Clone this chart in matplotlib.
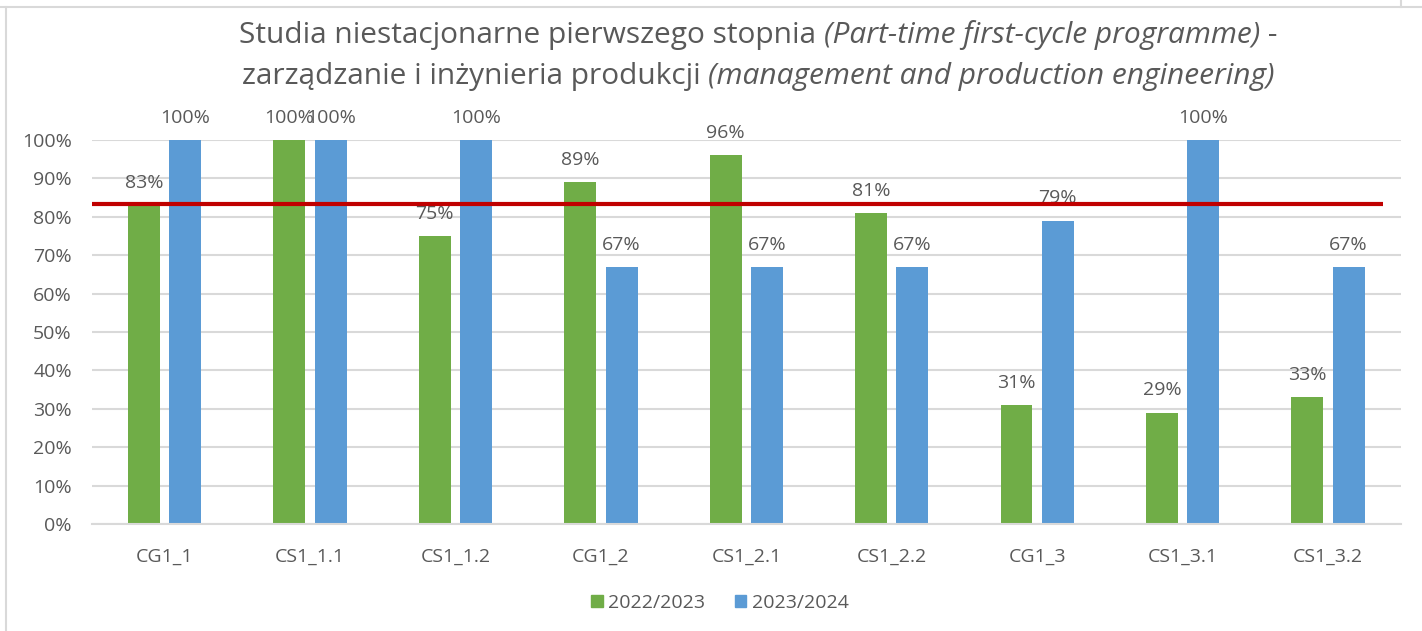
import numpy as np
import matplotlib
matplotlib.use('Agg')
import matplotlib.pyplot as plt
from matplotlib.lines import Line2D
from matplotlib.patches import Patch

categories = ['CG1_1', 'CS1_1.1', 'CS1_1.2', 'CG1_2', 'CS1_2.1',
              'CS1_2.2', 'CG1_3', 'CS1_3.1', 'CS1_3.2']
vals_2223 = [83, 100, 75, 89, 96, 81, 31, 29, 33]
vals_2324 = [100, 100, 100, 67, 67, 67, 79, 100, 67]
series_names = ['2022/2023', '2023/2024']
threshold = 83.3

C_GREEN = '#70ad47'
C_BLUE = '#5b9bd5'
C_RED = '#c00000'
C_TEXT = '#595959'
C_GRID = '#d9d9d9'

plt.rcParams['font.family'] = ['Open Sans', 'DejaVu Sans']

fig = plt.figure(figsize=(14.22, 6.31), dpi=100)
ax = fig.add_axes([0.0647, 0.1696, 0.9203, 0.6085])

x = np.arange(len(categories))
w = 0.22
off = 0.142
b1 = ax.bar(x - off, vals_2223, w, color=C_GREEN, zorder=2)
b2 = ax.bar(x + off, vals_2324, w, color=C_BLUE, zorder=2)

for bars, vals in ((b1, vals_2223), (b2, vals_2324)):
    for r, v in zip(bars, vals):
        ax.annotate(f'{v}%', (r.get_x() + r.get_width() / 2, v),
                    xytext=(0, 9.5), textcoords='offset points',
                    ha='center', va='bottom', fontsize=14, color=C_TEXT)

ax.hlines(threshold, -0.5, 8.38, color=C_RED, linewidth=3, zorder=3)

ax.set_xlim(-0.5, len(categories) - 0.5)
ax.set_ylim(0, 100)
ax.set_yticks(np.arange(0, 101, 10))
ax.set_yticklabels([f'{t}%' for t in range(0, 101, 10)])
ax.set_xticks(x)
ax.set_xticklabels(categories)
ax.tick_params(length=0, labelsize=14, labelcolor=C_TEXT)
ax.tick_params(axis='x', pad=17)
ax.tick_params(axis='y', pad=14.5)
ax.grid(axis='y', color=C_GRID, linewidth=1.5, zorder=0)
for s in ('top', 'right', 'left'):
    ax.spines[s].set_visible(False)
ax.spines['bottom'].set_color(C_GRID)
ax.spines['bottom'].set_linewidth(1.5)

# title with mixed italic pieces
fig.canvas.draw()
renderer = fig.canvas.get_renderer()
title_lines = [
    [('Studia niestacjonarne pierwszego stopnia ', 'normal'),
     ('(Part-time first-cycle programme)', 'italic'),
     (' -', 'normal')],
    [('zarządzanie i inżynieria produkcji ', 'normal'),
     ('(management and production engineering)', 'italic')],
]
title_y = [1 - 43 / 631, 1 - 84 / 631]
cx = 758 / 1422
for parts, yy in zip(title_lines, title_y):
    texts = [fig.text(0, yy, s, fontsize=21.5, style=st, color=C_TEXT,
                      va='baseline', ha='left') for s, st in parts]
    widths = [t.get_window_extent(renderer).width for t in texts]
    total = sum(widths) / fig.bbox.width
    xpos = cx - total / 2
    for t, wd in zip(texts, widths):
        t.set_x(xpos)
        xpos += wd / fig.bbox.width

handles = [Patch(color=C_GREEN), Patch(color=C_BLUE)]
fig.legend(handles, series_names, loc='center', bbox_to_anchor=(720 / 1422, 1 - 603 / 631),
           ncol=2, frameon=False, fontsize=14, labelcolor=C_TEXT,
           handlelength=0.6, handleheight=0.6, handletextpad=0.3, columnspacing=1.5)

# outer frame
fig.add_artist(Line2D([0, 1], [1 - 7 / 631] * 2, color=C_GRID, lw=1.5))
fig.add_artist(Line2D([6 / 1422] * 2, [0, 1 - 7 / 631], color=C_GRID, lw=1.5))
fig.add_artist(Line2D([1401 / 1422] * 2, [1 - 7 / 631, 1], color=C_GRID, lw=1.5))

fig.savefig('out.png', dpi=100)
